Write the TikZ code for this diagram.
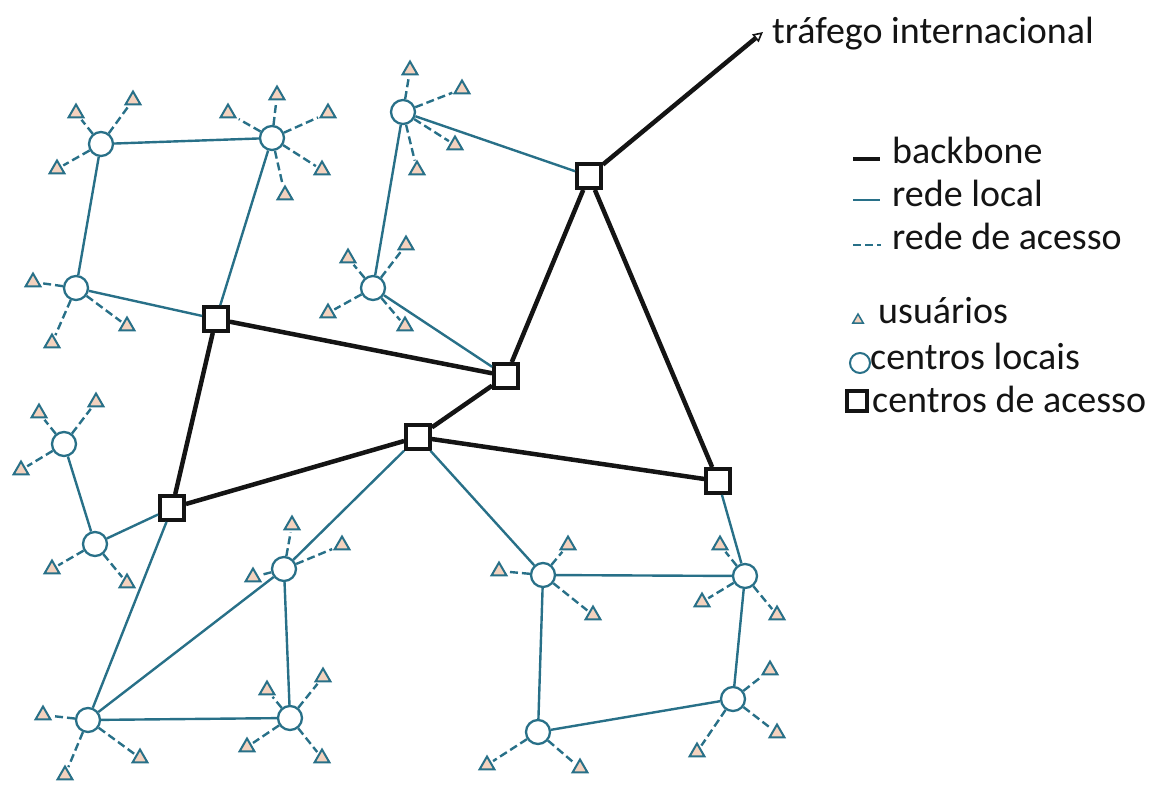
\documentclass[tikz,border=0pt]{standalone}
\usepackage{fontspec}
\setmainfont{Carlito}
\usetikzlibrary{shapes.geometric,arrows.meta}
\definecolor{teal1}{RGB}{40,112,136}
\definecolor{peach}{RGB}{244,210,190}
\definecolor{ink}{RGB}{20,20,20}
\begin{document}
\begin{tikzpicture}[x=1pt,y=-1pt,
 lc/.style={circle,draw=teal1,line width=2.3pt,fill=white,minimum size=24pt,inner sep=0pt},
 ac/.style={rectangle,draw=ink,line width=3.8pt,fill=white,minimum size=24pt,inner sep=0pt},
 usr/.style={regular polygon,regular polygon sides=3,draw=teal1,line width=2pt,fill=peach,minimum size=17pt,inner sep=0pt},
 bb/.style={draw=ink,line width=4.5pt},
 loc/.style={draw=teal1,line width=2.4pt},
 acc/.style={draw=teal1,line width=2.4pt,dash pattern=on 8pt off 4pt,shorten >=2pt},
 lbl/.style={font=\fontsize{38}{45}\selectfont,text=ink,anchor=base west,inner sep=0pt}]
\useasboundingbox (0,0) rectangle (1174,784);

% access centres
\node[ac] (S1) at (216,319) {};
\node[ac] (S2) at (506,376) {};
\node[ac] (S3) at (589,176) {};
\node[ac] (S4) at (418,437) {};
\node[ac] (S5) at (172,508) {};
\node[ac] (S6) at (718,481) {};

% local centres
\node[lc] (C1) at (101,144) {};
\node[lc] (C2) at (272,138) {};
\node[lc] (C3) at (76,288) {};
\node[lc] (C4) at (403,112) {};
\node[lc] (C5) at (373,288) {};
\node[lc] (C6) at (64,444) {};
\node[lc] (C7) at (95,544) {};
\node[lc] (C8) at (284,569) {};
\node[lc] (C9) at (88,720) {};
\node[lc] (C10) at (290,718) {};
\node[lc] (C11) at (543,575) {};
\node[lc] (C12) at (745,576) {};
\node[lc] (C13) at (538,732) {};
\node[lc] (C14) at (733,699) {};

% backbone
\draw[bb] (S1) -- (S2);
\draw[bb] (S1) -- (S5);
\draw[bb] (S5) -- (S4);
\draw[bb] (S4) -- (S2);
\draw[bb] (S2) -- (S3);
\draw[bb] (S3) -- (S6);
\draw[bb] (S4) -- (S6);
\coordinate (it) at (763,32);
\draw[bb,-{Triangle[open,length=10pt,width=10pt,line width=1.6pt]}] (S3) -- (it);
\node[lbl] (intl) at (772,44) {tráfego internacional};

% local network
\foreach \a/\b in {C1/C2,C1/C3,C2/S1,C3/S1,C4/S3,C4/C5,C5/S2,C6/C7,C7/S5,S5/C9,C9/C8,C8/S4,C8/C10,C9/C10,S4/C11,C11/C12,C11/C13,C12/S6,C12/C14,C13/C14}
  \draw[loc] (\a) -- (\b);

% users and access network
\foreach \n/\x/\y/\p in {
 u1a/76/113/C1, u1b/133/100/C1, u1c/57/169/C1,
 u2a/228/113/C2, u2b/277/95/C2, u2c/328/113/C2, u2d/322/170/C2, u2e/285/195/C2,
 u3a/33/282/C3, u3b/127/326/C3, u3c/52/343/C3,
 u4a/410/70/C4, u4b/462/89/C4, u4c/455/145/C4, u4d/417/170/C4,
 u5a/348/258/C5, u5b/406/245/C5, u5c/328/313/C5, u5d/405/326/C5,
 u6a/39/413/C6, u6b/96/402/C6, u6c/21/470/C6,
 u7a/52/569/C7, u7b/127/583/C7,
 u8a/292/525/C8, u8b/342/545/C8, u8c/253/577/C8,
 u9a/43/715/C9, u9b/140/758/C9, u9c/65/775/C9,
 u10a/267/690/C10, u10b/323/677/C10, u10c/247/747/C10, u10d/322/758/C10,
 u11a/568/545/C11, u11b/499/571/C11, u11c/593/615/C11,
 u12a/720/545/C12, u12b/702/602/C12, u12c/777/615/C12,
 u13a/487/765/C13, u13b/580/768/C13,
 u14a/770/670/C14, u14b/697/752/C14, u14c/777/733/C14}
{
  \node[usr] (\n) at (\x,\y) {};
  \draw[acc] (\p) -- (\n);
}

% legend
\coordinate (k1a) at (853,159); \coordinate (k1b) at (880,159);
\draw[bb] (k1a) -- (k1b);
\node[lbl] (t1) at (892,163) {backbone};
\coordinate (k2a) at (853,200); \coordinate (k2b) at (880,200);
\draw[loc] (k2a) -- (k2b);
\node[lbl] (t2) at (892,206) {rede local};
\coordinate (k3a) at (853,245); \coordinate (k3b) at (881,245);
\draw[loc,dash pattern=on 8pt off 4pt] (k3a) -- (k3b);
\node[lbl] (t3) at (892,249) {rede de acesso};
\node[usr,minimum size=12pt,line width=1.5pt] (k4) at (858,320) {};
\node[lbl] (t4) at (878,323) {usuários};
\node[lc,minimum size=20pt,line width=2pt] (k5) at (860,363) {};
\node[lbl] (t5) at (870,369) {centros locais};
\node[ac,minimum size=20pt,line width=3.2pt] (k6) at (857,401) {};
\node[lbl] (t6) at (872,412) {centros de acesso};
\end{tikzpicture}
\end{document}
